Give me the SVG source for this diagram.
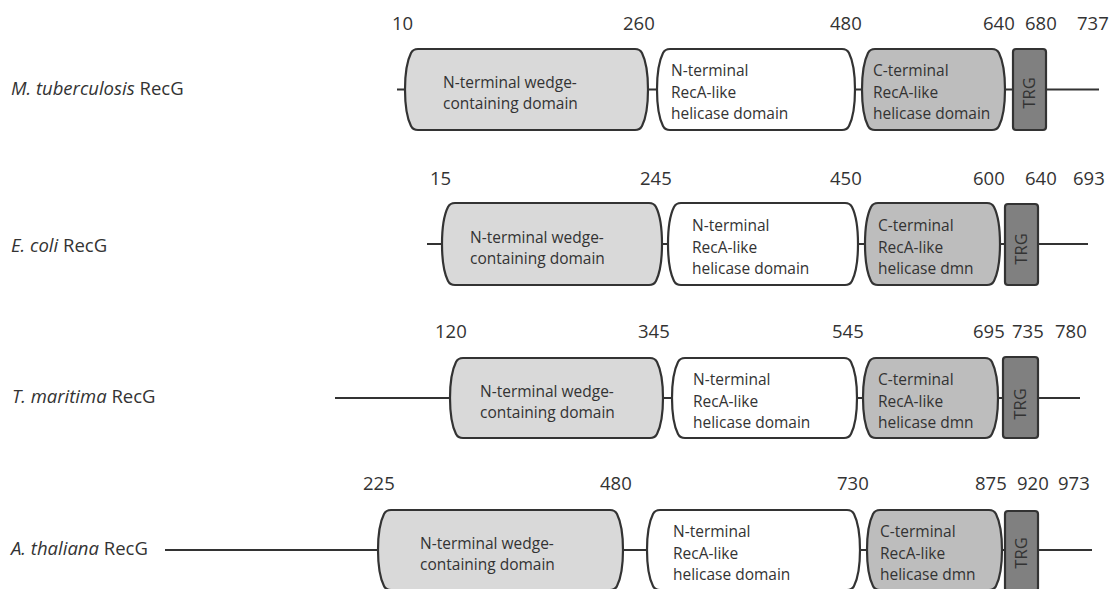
<svg xmlns="http://www.w3.org/2000/svg" width="1111" height="589" viewBox="0 0 1111 589">
<style>
text{font-family:"Open Sans","Liberation Sans",sans-serif;fill:#333;}
.num{font-size:18.5px;}
.lab{font-size:18.5px;}
.dt{font-size:15.5px;}
.trgt{font-size:16.5px;text-anchor:middle;dominant-baseline:central;}
.it{font-style:italic;}
.dom{stroke:#333;stroke-width:2.2;}
.d1{fill:#d9d9d9;}
.d2{fill:#ffffff;}
.d3{fill:#bdbdbd;}
.trg{fill:#808080;stroke:#333;stroke-width:2.2;}
.bb{stroke:#333;stroke-width:2.2;fill:none;}
</style>
<rect width="1111" height="589" fill="#fff"/>
<g id="connectors">
<line class="bb" x1="397" y1="89.5" x2="1099" y2="89.5"/>
<line class="bb" x1="427" y1="244" x2="1088" y2="244"/>
<line class="bb" x1="335" y1="398" x2="1080" y2="398"/>
<line class="bb" x1="165" y1="550" x2="1092" y2="550"/>
</g>
<g id="row-mtb">
<text class="lab" x="11" y="95"><tspan class="it">M. tuberculosis</tspan> RecG</text>
<text class="num" x="392" y="30">10</text><text class="num" x="623" y="30">260</text><text class="num" x="830" y="30">480</text><text class="num" x="983" y="30">640</text><text class="num" x="1025" y="30">680</text><text class="num" x="1077" y="30">737</text>
<g id="mtb-nwedge"><path class="dom d1" d="M418,49 H635 Q640,49 642,53 C646,61 648,74 648,89.5 C648,105 646,118 642,126 Q640,130 635,130 H418 Q413,130 411,126 C407,118 405,105 405,89.5 C405,74 407,61 411,53 Q413,49 418,49 Z"/>
<text class="dt" x="443" y="87.5">N-terminal wedge-</text><text class="dt" x="443" y="108.5">containing domain</text></g>
<g id="mtb-nreca"><path class="dom d2" d="M670,49 H842 Q847,49 849,53 C853,61 855,74 855,89.5 C855,105 853,118 849,126 Q847,130 842,130 H670 Q665,130 663,126 C659,118 657,105 657,89.5 C657,74 659,61 663,53 Q665,49 670,49 Z"/>
<text class="dt" x="671" y="76">N-terminal</text><text class="dt" x="671" y="97.5">RecA-like</text><text class="dt" x="671" y="119">helicase domain</text></g>
<g id="mtb-creca"><path class="dom d3" d="M875,49 H992 Q997,49 999,53 C1003,61 1005,74 1005,89.5 C1005,105 1003,118 999,126 Q997,130 992,130 H875 Q870,130 868,126 C864,118 862,105 862,89.5 C862,74 864,61 868,53 Q870,49 875,49 Z"/>
<text class="dt" x="873" y="76">C-terminal</text><text class="dt" x="873" y="97.5">RecA-like</text><text class="dt" x="873" y="119">helicase domain</text></g>
<g id="mtb-trg"><rect class="trg" x="1013" y="49" width="33" height="81" rx="3"/>
<text class="trgt" transform="translate(1028.5,93) rotate(-90)">TRG</text></g>
</g>
<g id="row-eco">
<text class="lab" x="11" y="252"><tspan class="it">E. coli</tspan> RecG</text>
<text class="num" x="430" y="185">15</text><text class="num" x="640" y="185">245</text><text class="num" x="830" y="185">450</text><text class="num" x="973" y="185">600</text><text class="num" x="1025" y="185">640</text><text class="num" x="1073" y="185">693</text>
<g id="eco-nwedge"><path class="dom d1" d="M455,203 H649 Q654,203 656,207 C660,215 662,228 662,244 C662,260 660,273 656,281 Q654,285 649,285 H455 Q450,285 448,281 C444,273 442,260 442,244 C442,228 444,215 448,207 Q450,203 455,203 Z"/>
<text class="dt" x="470" y="243">N-terminal wedge-</text><text class="dt" x="470" y="264">containing domain</text></g>
<g id="eco-nreca"><path class="dom d2" d="M681,203 H845 Q850,203 852,207 C856,215 858,228 858,244 C858,260 856,273 852,281 Q850,285 845,285 H681 Q676,285 674,281 C670,273 668,260 668,244 C668,228 670,215 674,207 Q676,203 681,203 Z"/>
<text class="dt" x="692" y="231">N-terminal</text><text class="dt" x="692" y="252.5">RecA-like</text><text class="dt" x="692" y="274">helicase domain</text></g>
<g id="eco-creca"><path class="dom d3" d="M878,203 H987 Q992,203 994,207 C998,215 1000,228 1000,244 C1000,260 998,273 994,281 Q992,285 987,285 H878 Q873,285 871,281 C867,273 865,260 865,244 C865,228 867,215 871,207 Q873,203 878,203 Z"/>
<text class="dt" x="878" y="231">C-terminal</text><text class="dt" x="878" y="252.5">RecA-like</text><text class="dt" x="878" y="274">helicase dmn</text></g>
<g id="eco-trg"><rect class="trg" x="1005" y="204" width="33" height="81" rx="3"/>
<text class="trgt" transform="translate(1020.5,249) rotate(-90)">TRG</text></g>
</g>
<g id="row-tma">
<text class="lab" x="12" y="403"><tspan class="it">T. maritima</tspan> RecG</text>
<text class="num" x="435" y="338">120</text><text class="num" x="638" y="338">345</text><text class="num" x="832" y="338">545</text><text class="num" x="973" y="338">695</text><text class="num" x="1012" y="338">735</text><text class="num" x="1055" y="338">780</text>
<g id="tma-nwedge"><path class="dom d1" d="M463,358 H650 Q655,358 657,362 C661,370 663,383 663,398 C663,413 661,426 657,434 Q655,438 650,438 H463 Q458,438 456,434 C452,426 450,413 450,398 C450,383 452,370 456,362 Q458,358 463,358 Z"/>
<text class="dt" x="480" y="397">N-terminal wedge-</text><text class="dt" x="480" y="418">containing domain</text></g>
<g id="tma-nreca"><path class="dom d2" d="M685,358 H844 Q849,358 851,362 C855,370 857,383 857,398 C857,413 855,426 851,434 Q849,438 844,438 H685 Q680,438 678,434 C674,426 672,413 672,398 C672,383 674,370 678,362 Q680,358 685,358 Z"/>
<text class="dt" x="693" y="385">N-terminal</text><text class="dt" x="693" y="406.5">RecA-like</text><text class="dt" x="693" y="428">helicase domain</text></g>
<g id="tma-creca"><path class="dom d3" d="M876,358 H985 Q990,358 992,362 C996,370 998,383 998,398 C998,413 996,426 992,434 Q990,438 985,438 H876 Q871,438 869,434 C865,426 863,413 863,398 C863,383 865,370 869,362 Q871,358 876,358 Z"/>
<text class="dt" x="878" y="385">C-terminal</text><text class="dt" x="878" y="406.5">RecA-like</text><text class="dt" x="878" y="428">helicase dmn</text></g>
<g id="tma-trg"><rect class="trg" x="1003" y="357" width="35" height="81" rx="3"/>
<text class="trgt" transform="translate(1019.5,404) rotate(-90)">TRG</text></g>
</g>
<g id="row-ath">
<text class="lab" x="11" y="555"><tspan class="it">A. thaliana</tspan> RecG</text>
<text class="num" x="363" y="490">225</text><text class="num" x="600" y="490">480</text><text class="num" x="837" y="490">730</text><text class="num" x="975" y="490">875</text><text class="num" x="1017" y="490">920</text><text class="num" x="1058" y="490">973</text>
<g id="ath-nwedge"><path class="dom d1" d="M391,510 H610 Q615,510 617,514 C621,522 623,535 623,550 C623,565 621,578 617,586 Q615,590 610,590 H391 Q386,590 384,586 C380,578 378,565 378,550 C378,535 380,522 384,514 Q386,510 391,510 Z"/>
<text class="dt" x="420" y="549">N-terminal wedge-</text><text class="dt" x="420" y="570">containing domain</text></g>
<g id="ath-nreca"><path class="dom d2" d="M660,510 H847 Q852,510 854,514 C858,522 860,535 860,550 C860,565 858,578 854,586 Q852,590 847,590 H660 Q655,590 653,586 C649,578 647,565 647,550 C647,535 649,522 653,514 Q655,510 660,510 Z"/>
<text class="dt" x="673" y="537">N-terminal</text><text class="dt" x="673" y="558.5">RecA-like</text><text class="dt" x="673" y="580">helicase domain</text></g>
<g id="ath-creca"><path class="dom d3" d="M880,510 H989 Q994,510 996,514 C1000,522 1002,535 1002,550 C1002,565 1000,578 996,586 Q994,590 989,590 H880 Q875,590 873,586 C869,578 867,565 867,550 C867,535 869,522 873,514 Q875,510 880,510 Z"/>
<text class="dt" x="880" y="537">C-terminal</text><text class="dt" x="880" y="558.5">RecA-like</text><text class="dt" x="880" y="580">helicase dmn</text></g>
<g id="ath-trg"><rect class="trg" x="1005" y="511" width="33" height="80" rx="3"/>
<text class="trgt" transform="translate(1020.5,553) rotate(-90)">TRG</text></g>
</g>
</svg>
